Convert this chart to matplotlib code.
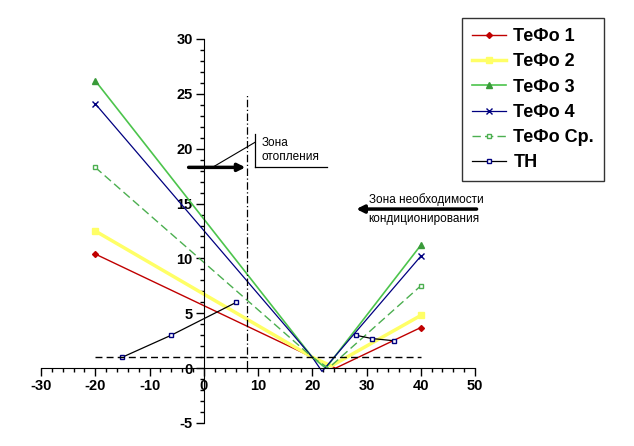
import numpy as np
import matplotlib.pyplot as plt

plt.rcParams['font.family'] = ['Liberation Sans', 'DejaVu Sans']
plt.rcParams['axes.unicode_minus'] = False

# temperatures and values
t_tefo1 = [-20, 20, 24.3, 40]
tefo1 = [10.4, 1.0, 0.0, 3.7]
t_tefo2 = [-20, 20, 23.5, 40]
tefo2 = [12.5, 1.0, 0.2, 4.8]
t_tefo3 = [-20, 20, 22.5, 40]
tefo3 = [26.2, 1.0, 0.0, 11.2]
t_tefo4 = [-20, 20, 21.8, 40]
tefo4 = [24.1, 1.0, -0.3, 10.2]
t_tefo_avg = [-20, 20, 23, 40]
tefo_avg = [18.3, 1.0, 0.0, 7.5]
t_hp = [-15, -6, 6, np.nan, 28, 31, 35]
hp = [1.0, 3.0, 6.0, np.nan, 3.0, 2.7, 2.5]

fig = plt.figure(figsize=(6.34, 4.46), dpi=100)
ax = fig.add_axes([41 / 634, 1 - 423 / 446, 434 / 634, 384 / 446])

ends = [0, 3]
ax.plot(t_tefo1, tefo1, color='#c00000', lw=1, marker='D', ms=3, markevery=ends, label='ТеФо 1')
ax.plot(t_tefo2, tefo2, color='#ffff66', lw=2.5, marker='s', ms=4, markevery=ends, label='ТеФо 2')
ax.plot(t_tefo3, tefo3, color='#4cc44c', lw=1.2, marker='^', ms=5, markevery=ends,
        markerfacecolor='#3a9a3a', markeredgecolor='#3a9a3a', label='ТеФо 3')
ax.plot(t_tefo4, tefo4, color='#000080', lw=0.9, marker='x', ms=4, markevery=ends, label='ТеФо 4')
ax.plot(t_tefo_avg, tefo_avg, color='#4caf50', lw=1, ls=(0, (6, 3)), marker='s', ms=3,
        markevery=ends, markerfacecolor='white', markeredgecolor='#4caf50', label='ТеФо Ср.')
ax.plot(t_hp, hp, color='black', lw=0.9, marker='s', ms=3.5, markerfacecolor='white',
        markeredgecolor='#000080', label='ТН')

# reference lines
ax.plot([-20, 40], [1, 1], color='black', lw=1, ls=(0, (5, 3)))
ax.plot([8, 8], [0, 25], color='black', lw=0.9, ls=(0, (6, 2, 1, 2)))

# heating zone annotation
ax.annotate('', xy=(8.2, 18.3), xytext=(-3.3, 18.3),
            arrowprops=dict(arrowstyle='-|>', color='black', lw=2.5, mutation_scale=11))
ax.plot([1.6, 9.5], [18.3, 20.6], color='black', lw=0.8)
ax.plot([9.5, 9.5], [18.3, 21.3], color='black', lw=0.9)
ax.plot([9.5, 22.7], [18.3, 18.3], color='black', lw=0.9)
ax.text(10.6, 19.9, 'Зона\nотопления', fontsize=8.5, va='center', ha='left', linespacing=1.2)

# cooling zone annotation
ax.annotate('', xy=(27.6, 14.5), xytext=(50.8, 14.5),
            arrowprops=dict(arrowstyle='-|>', color='black', lw=2.5, mutation_scale=11),
            annotation_clip=False)
ax.text(30.4, 15.4, 'Зона необходимости', fontsize=8.5, va='center', ha='left')
ax.text(30.4, 13.6, 'кондиционирования', fontsize=8.5, va='center', ha='left')

ax.set_xlim(-30, 50)
ax.set_ylim(-5, 30)
ax.spines['left'].set_position(('data', 0))
ax.spines['bottom'].set_position(('data', 0))
ax.spines['right'].set_visible(False)
ax.spines['top'].set_visible(False)
ax.set_xticks(np.arange(-30, 51, 10))
ax.set_xticks(np.arange(-30, 51, 2), minor=True)
ax.set_yticks(np.arange(-5, 31, 5))
ax.set_yticks(np.arange(-5, 31, 1), minor=True)
ax.tick_params(which='major', length=6, width=1, direction='out', labelsize=10.5, pad=2)
ax.tick_params(which='minor', length=3, width=1, direction='out')
for lab in ax.get_xticklabels() + ax.get_yticklabels():
    lab.set_fontweight('bold')

leg = fig.legend(loc='upper left', bbox_to_anchor=(462 / 634, 1 - 18 / 446), frameon=True,
                 fancybox=False, edgecolor='black', prop={'weight': 'bold', 'size': 13},
                 handlelength=1.9, labelspacing=0.46, borderpad=0.55, borderaxespad=0,
                 handletextpad=0.4)
leg.get_frame().set_linewidth(1)

fig.savefig('out.png', dpi=100)
